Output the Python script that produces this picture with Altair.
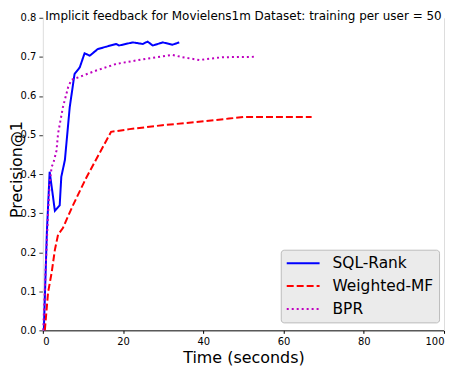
import altair as alt
import pandas as pd

# SQL-Rank
sql_x = [0.25, 1.0, 1.7, 2.3, 3.0, 4.2, 4.6, 5.5, 6.7, 7.9, 9.2, 10.4, 11.7, 13.7, 15.8, 18.3, 19.0, 22.4, 24.9, 26.1, 27.4, 29.9, 32.3, 34.0]
sql_y = [0.0, 0.25, 0.406, 0.36, 0.306, 0.32, 0.393, 0.436, 0.571, 0.656, 0.673, 0.709, 0.703, 0.72, 0.726, 0.733, 0.729, 0.737, 0.733, 0.739, 0.729, 0.737, 0.731, 0.737]
# Weighted-MF
wmf_x = [0.5, 1.3, 2.2, 3.0, 3.8, 5.0, 7.5, 10.8, 14.1, 17.0, 21.6, 29.8, 38.1, 46.4, 50.1, 67.0]
wmf_y = [0.0, 0.097, 0.148, 0.206, 0.245, 0.262, 0.32, 0.39, 0.453, 0.508, 0.515, 0.525, 0.533, 0.542, 0.546, 0.546]
# BPR
bpr_x = [0.1, 0.5, 0.9, 1.3, 1.7, 2.2, 2.6, 3.4, 3.8, 5.0, 6.3, 7.1, 10.0, 13.3, 18.3, 25.7, 32.3, 34.8, 39.0, 44.7, 52.6]
bpr_y = [0.0, 0.104, 0.206, 0.3, 0.376, 0.419, 0.427, 0.46, 0.504, 0.571, 0.622, 0.641, 0.652, 0.665, 0.682, 0.695, 0.705, 0.699, 0.692, 0.699, 0.7]

methods = ["SQL-Rank", "Weighted-MF", "BPR"]
colors = ["#0000ff", "#ff0000", "#bf00bf"]
dashes = [[1, 0], [7, 3], [2, 3]]

rows = []
for name, xs, ys in [("SQL-Rank", sql_x, sql_y), ("Weighted-MF", wmf_x, wmf_y), ("BPR", bpr_x, bpr_y)]:
    for i, (a, b) in enumerate(zip(xs, ys)):
        rows.append({"method": name, "time": a, "prec": b, "order": i})
df = pd.DataFrame(rows)

FONT = "DejaVu Sans"

xscale = alt.Scale(domain=[0, 100], nice=False)
yscale = alt.Scale(domain=[0, 0.8], nice=False)

lines = alt.Chart(df).mark_line(strokeWidth=2).encode(
    x=alt.X("time:Q", scale=xscale, axis=alt.Axis(
        title="Time (seconds)", values=[0, 20, 40, 60, 80, 100], format="d",
        domainColor="black", tickColor="black", tickSize=3, labelPadding=3,
        labelFontSize=10, titleFontSize=16, titleFontWeight="normal",
        titleY=32, titleBaseline="alphabetic", grid=False)),
    y=alt.Y("prec:Q", scale=yscale, axis=alt.Axis(
        title="Precision@1", values=[0, 0.1, 0.2, 0.3, 0.4, 0.5, 0.6, 0.7, 0.8], format=".1f",
        domainColor="#dddddd", tickColor="#333333", tickSize=4, labelPadding=3,
        labelFontSize=10, titleFontSize=16, titleFontWeight="normal",
        titleX=-21, titleY=152, titleAngle=270, titleAlign="center",
        titleBaseline="alphabetic", grid=False)),
    color=alt.Color("method:N", scale=alt.Scale(domain=methods, range=colors),
                    legend=alt.Legend(title=None)),
    strokeDash=alt.StrokeDash("method:N", scale=alt.Scale(domain=methods, range=dashes),
                              legend=alt.Legend(title=None)),
    order="order:Q",
)

right = alt.Chart(df).mark_line(opacity=0).encode(
    x=alt.X("time:Q", scale=xscale),
    y=alt.Y("prec:Q", scale=yscale, axis=alt.Axis(
        orient="right", title=None, labels=False, ticks=False,
        domainColor="#dddddd", grid=False)),
    detail="method:N",
)

chart = alt.layer(lines, right).resolve_axis(y="independent").properties(
    width=403, height=314,
    title=alt.TitleParams("Implicit feedback for Movielens1m Dataset: training per user = 50",
                          fontSize=12, font=FONT, fontWeight="normal", anchor="middle", offset=-10),
    autosize=alt.AutoSizeParams(type="none"),
    padding={"left": 35, "top": 9, "right": 4, "bottom": 37},
).configure_view(stroke=None).configure_axis(
    labelFont=FONT, titleFont=FONT, labelColor="black", titleColor="black"
).configure_legend(
    orient="none", legendX=239, legendY=233,
    fillColor="#ebebeb", strokeColor="#bbbbbb", cornerRadius=3, padding=5,
    labelFont=FONT, labelFontSize=15.5, labelColor="black", labelOffset=12,
    symbolType="stroke", symbolSize=1089, symbolStrokeWidth=2, rowPadding=6,
    clipHeight=17,
)

chart.save("out.html", embed_options={"renderer": "svg", "actions": False})
